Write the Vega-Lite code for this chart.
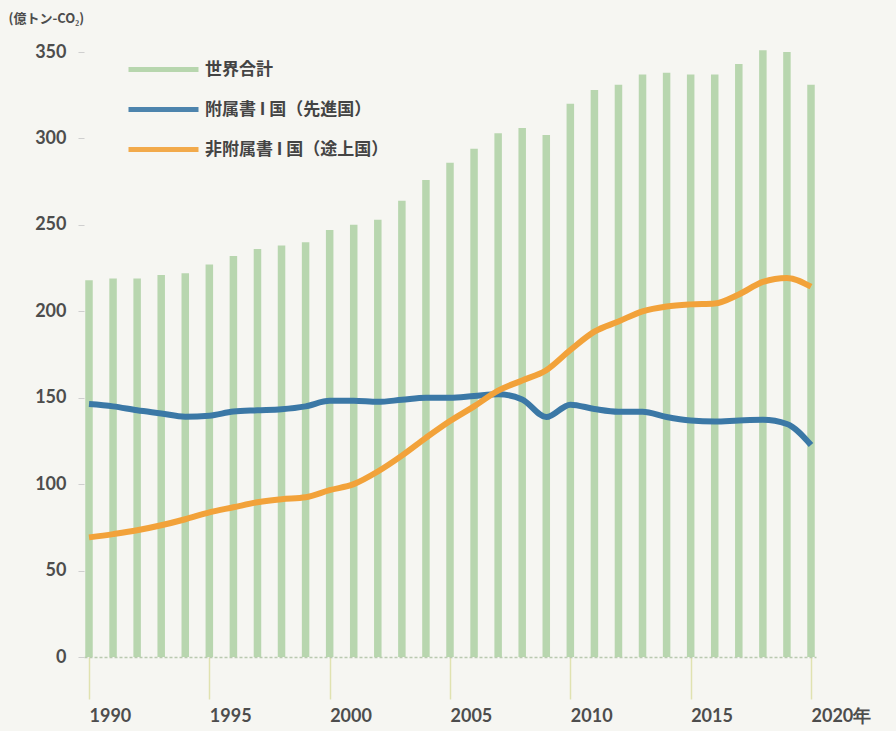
{
  "$schema": "https://vega.github.io/schema/vega-lite/v6.json",
  "width": 732,
  "height": 605,
  "autosize": {"type": "none"},
  "padding": {"left": 84, "top": 52, "right": 80, "bottom": 74},
  "background": "#f6f6f2",
  "config": {"view": {"stroke": null}, "font": "Noto Sans CJK JP"},
  "datasets": {
    "total": [
      {"year": 1990, "value": 218}, {"year": 1991, "value": 219}, {"year": 1992, "value": 219},
      {"year": 1993, "value": 221}, {"year": 1994, "value": 222}, {"year": 1995, "value": 227},
      {"year": 1996, "value": 232}, {"year": 1997, "value": 236}, {"year": 1998, "value": 238},
      {"year": 1999, "value": 240}, {"year": 2000, "value": 247}, {"year": 2001, "value": 250},
      {"year": 2002, "value": 253}, {"year": 2003, "value": 264}, {"year": 2004, "value": 276},
      {"year": 2005, "value": 286}, {"year": 2006, "value": 294}, {"year": 2007, "value": 303},
      {"year": 2008, "value": 306}, {"year": 2009, "value": 302}, {"year": 2010, "value": 320},
      {"year": 2011, "value": 328}, {"year": 2012, "value": 331}, {"year": 2013, "value": 337},
      {"year": 2014, "value": 338}, {"year": 2015, "value": 337}, {"year": 2016, "value": 337},
      {"year": 2017, "value": 343}, {"year": 2018, "value": 351}, {"year": 2019, "value": 350},
      {"year": 2020, "value": 331}
    ],
    "lines": [
      {"series": "附属書 I 国（先進国）", "year": 1990, "value": 146.3},
      {"series": "附属書 I 国（先進国）", "year": 1991, "value": 145.0},
      {"series": "附属書 I 国（先進国）", "year": 1992, "value": 142.7},
      {"series": "附属書 I 国（先進国）", "year": 1993, "value": 140.9},
      {"series": "附属書 I 国（先進国）", "year": 1994, "value": 139.0},
      {"series": "附属書 I 国（先進国）", "year": 1995, "value": 139.6},
      {"series": "附属書 I 国（先進国）", "year": 1996, "value": 142.0},
      {"series": "附属書 I 国（先進国）", "year": 1997, "value": 142.7},
      {"series": "附属書 I 国（先進国）", "year": 1998, "value": 143.3},
      {"series": "附属書 I 国（先進国）", "year": 1999, "value": 145.0},
      {"series": "附属書 I 国（先進国）", "year": 2000, "value": 148.2},
      {"series": "附属書 I 国（先進国）", "year": 2001, "value": 148.2},
      {"series": "附属書 I 国（先進国）", "year": 2002, "value": 147.6},
      {"series": "附属書 I 国（先進国）", "year": 2003, "value": 148.8},
      {"series": "附属書 I 国（先進国）", "year": 2004, "value": 150.0},
      {"series": "附属書 I 国（先進国）", "year": 2005, "value": 150.0},
      {"series": "附属書 I 国（先進国）", "year": 2006, "value": 151.0},
      {"series": "附属書 I 国（先進国）", "year": 2007, "value": 152.0},
      {"series": "附属書 I 国（先進国）", "year": 2008, "value": 149.0},
      {"series": "附属書 I 国（先進国）", "year": 2009, "value": 138.8},
      {"series": "附属書 I 国（先進国）", "year": 2010, "value": 146.0},
      {"series": "附属書 I 国（先進国）", "year": 2011, "value": 143.5},
      {"series": "附属書 I 国（先進国）", "year": 2012, "value": 141.9},
      {"series": "附属書 I 国（先進国）", "year": 2013, "value": 141.9},
      {"series": "附属書 I 国（先進国）", "year": 2014, "value": 138.8},
      {"series": "附属書 I 国（先進国）", "year": 2015, "value": 136.8},
      {"series": "附属書 I 国（先進国）", "year": 2016, "value": 136.2},
      {"series": "附属書 I 国（先進国）", "year": 2017, "value": 136.8},
      {"series": "附属書 I 国（先進国）", "year": 2018, "value": 137.2},
      {"series": "附属書 I 国（先進国）", "year": 2019, "value": 134.8},
      {"series": "附属書 I 国（先進国）", "year": 2020, "value": 122.6},
      {"series": "非附属書 I 国（途上国）", "year": 1990, "value": 69.2},
      {"series": "非附属書 I 国（途上国）", "year": 1991, "value": 71.1},
      {"series": "非附属書 I 国（途上国）", "year": 1992, "value": 73.3},
      {"series": "非附属書 I 国（途上国）", "year": 1993, "value": 76.2},
      {"series": "非附属書 I 国（途上国）", "year": 1994, "value": 79.7},
      {"series": "非附属書 I 国（途上国）", "year": 1995, "value": 83.7},
      {"series": "非附属書 I 国（途上国）", "year": 1996, "value": 86.6},
      {"series": "非附属書 I 国（途上国）", "year": 1997, "value": 89.5},
      {"series": "非附属書 I 国（途上国）", "year": 1998, "value": 91.3},
      {"series": "非附属書 I 国（途上国）", "year": 1999, "value": 92.4},
      {"series": "非附属書 I 国（途上国）", "year": 2000, "value": 96.5},
      {"series": "非附属書 I 国（途上国）", "year": 2001, "value": 100.0},
      {"series": "非附属書 I 国（途上国）", "year": 2002, "value": 107.3},
      {"series": "非附属書 I 国（途上国）", "year": 2003, "value": 116.5},
      {"series": "非附属書 I 国（途上国）", "year": 2004, "value": 126.8},
      {"series": "非附属書 I 国（途上国）", "year": 2005, "value": 136.5},
      {"series": "非附属書 I 国（途上国）", "year": 2006, "value": 145.0},
      {"series": "非附属書 I 国（途上国）", "year": 2007, "value": 154.1},
      {"series": "非附属書 I 国（途上国）", "year": 2008, "value": 160.0},
      {"series": "非附属書 I 国（途上国）", "year": 2009, "value": 165.9},
      {"series": "非附属書 I 国（途上国）", "year": 2010, "value": 177.6},
      {"series": "非附属書 I 国（途上国）", "year": 2011, "value": 188.2},
      {"series": "非附属書 I 国（途上国）", "year": 2012, "value": 194.1},
      {"series": "非附属書 I 国（途上国）", "year": 2013, "value": 200.0},
      {"series": "非附属書 I 国（途上国）", "year": 2014, "value": 202.8},
      {"series": "非附属書 I 国（途上国）", "year": 2015, "value": 204.0},
      {"series": "非附属書 I 国（途上国）", "year": 2016, "value": 204.5},
      {"series": "非附属書 I 国（途上国）", "year": 2017, "value": 209.7},
      {"series": "非附属書 I 国（途上国）", "year": 2018, "value": 217.0},
      {"series": "非附属書 I 国（途上国）", "year": 2019, "value": 219.3},
      {"series": "非附属書 I 国（途上国）", "year": 2020, "value": 214.2}
    ]
  },
  "layer": [
    {
      "data": {"name": "total"},
      "mark": {"type": "bar", "width": 7.5, "opacity": 0.9},
      "encoding": {
        "x": {
          "field": "year",
          "type": "quantitative",
          "scale": {"domain": [1990, 2020], "nice": false, "zero": false},
          "axis": {
            "title": null,
            "grid": false,
            "values": [1990, 1995, 2000, 2005, 2010, 2015, 2020],
            "format": "d",
            "labelExpr": "datum.value == 2020 ? '2020年' : datum.label",
            "tickSize": 42,
            "tickColor": "#e0e2b0",
            "tickWidth": 1.5,
            "domainColor": "#b9c9b0",
            "domainDash": [3, 2],
            "domainWidth": 1.5,
            "labelAlign": "left",
            "labelDx": -12,
            "labelPadding": 8,
            "labelFontSize": 18,
            "labelFontWeight": "bold",
            "labelColor": "#4d4d4d",
            "labelFont": "Lato",
            "labelFlush": false,
            "labelOverlap": false
          }
        },
        "y": {
          "field": "value",
          "type": "quantitative",
          "scale": {"domain": [0, 350], "nice": false},
          "axis": {
            "title": "(億トン-CO₂)",
            "titleAngle": 0,
            "titleAlign": "left",
            "titleBaseline": "middle",
            "titleX": -76,
            "titleY": -34,
            "titleFontSize": 13,
            "titleFontWeight": "bold",
            "titleColor": "#4d4d4d",
            "grid": false,
            "domain": false,
            "values": [0, 50, 100, 150, 200, 250, 300, 350],
            "tickSize": 6,
            "tickColor": "#cfcfcf",
            "labelPadding": 12,
            "labelFontSize": 18,
            "labelFontWeight": "bold",
            "labelColor": "#4d4d4d",
            "labelFont": "Lato"
          }
        },
        "color": {
          "datum": "世界合計",
          "type": "nominal",
          "scale": {
            "domain": ["世界合計", "附属書 I 国（先進国）", "非附属書 I 国（途上国）"],
            "range": ["#b1d3a7", "#3b78a6", "#f2a23a"]
          },
          "legend": {
            "title": null,
            "orient": "none",
            "legendX": 71,
            "legendY": 9,
            "symbolType": "M-10,0H10",
            "symbolSize": 49,
            "symbolStrokeWidth": 5,
            "labelFontSize": 17,
            "labelFontWeight": "bold",
            "labelColor": "#444444",
            "labelOffset": 33,
            "labelLimit": 400,
            "rowPadding": 19
          }
        }
      }
    },
    {
      "data": {"name": "lines"},
      "mark": {"type": "line", "strokeWidth": 6, "interpolate": "monotone"},
      "encoding": {
        "x": {"field": "year", "type": "quantitative"},
        "y": {"field": "value", "type": "quantitative"},
        "color": {"field": "series", "type": "nominal", "legend": null}
      }
    }
  ]
}
